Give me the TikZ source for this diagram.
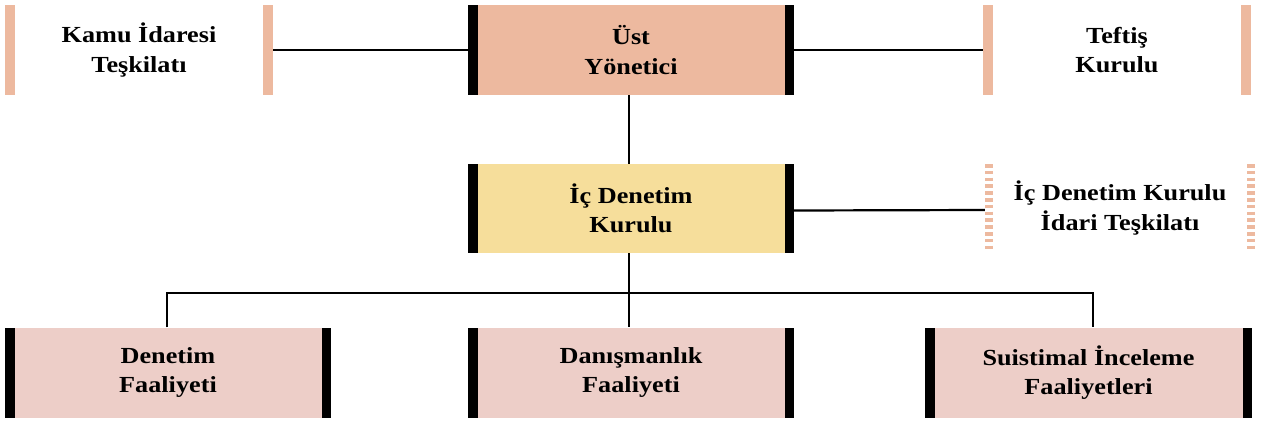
\documentclass[tikz,border=0pt]{standalone}
\usepackage{fontspec}
\setmainfont{Liberation Serif}[FakeStretch=1.14]
\definecolor{salmon}{HTML}{EDB99F}
\definecolor{sand}{HTML}{F6DE9B}
\definecolor{blush}{HTML}{EDCEC8}
\tikzset{
  unit/.style={inner sep=0pt, align=center,
    font=\fontsize{23pt}{29.5pt}\selectfont\bfseries},
  % filled box with heavy black bars on both sides
  mainbox/.style={unit, minimum width=326pt, minimum height=90pt, fill=#1,
    path picture={
      \fill[black] (path picture bounding box.north west) rectangle
        ([xshift=10pt]path picture bounding box.south west);
      \fill[black] (path picture bounding box.north east) rectangle
        ([xshift=-9.5pt]path picture bounding box.south east);}},
  % unfilled box marked only by two salmon side bars
  sidebox/.style={unit, minimum width=268pt, minimum height=90pt,
    path picture={
      \fill[salmon] (path picture bounding box.north west) rectangle
        ([xshift=10pt]path picture bounding box.south west);
      \fill[salmon] (path picture bounding box.north east) rectangle
        ([xshift=-10pt]path picture bounding box.south east);}},
  % unfilled box with dotted salmon side bars
  dashbox/.style={unit, minimum width=270pt, minimum height=88pt,
    path picture={
      \draw[salmon, line width=8pt, dash pattern=on 3.5pt off 3.3pt]
        ([xshift=4pt]path picture bounding box.north west) --
        ([xshift=4pt]path picture bounding box.south west)
        ([xshift=-4pt]path picture bounding box.north east) --
        ([xshift=-4pt]path picture bounding box.south east);}},
  link/.style={draw=black, line width=2.2pt}
}
\begin{document}
\begin{tikzpicture}[x=1pt, y=-1pt]
  \useasboundingbox (0,0) rectangle (1262,421);

  % top row
  \node[mainbox=salmon] (ust) at (631,50) {Üst\\Yönetici};
  \node[sidebox] (kamu) at (139,50) {Kamu İdaresi\\Teşkilatı};
  \node[sidebox] (teftis) at (1117,50) {Teftiş\\Kurulu};

  % middle row
  \node[mainbox=sand, minimum height=89pt] (icd) at (631,208.5) {İç Denetim\\Kurulu};
  \node[dashbox] (idari) at (1120,208) {İç Denetim Kurulu\\İdari Teşkilatı};

  % bottom row
  \node[mainbox=blush] (den) at (168,372.5) {Denetim\\Faaliyeti};
  \node[mainbox=blush] (dan) at (631,372.5) {Danışmanlık\\Faaliyeti};
  \node[mainbox=blush, minimum width=327pt] (sui) at (1088.5,372.5) {Suistimal İnceleme\\Faaliyetleri};

  % connectors
  \draw[link] (ust.west) -- (kamu.east);
  \draw[link] (ust.east) -- (teftis.west);
  \draw[link] ([xshift=-2pt]ust.south) -- ([xshift=-2pt]icd.north);
  \draw[link] ([yshift=-2pt]icd.east) -- ([yshift=-2pt]idari.west);
  \coordinate (split) at (629,293);
  \draw[link] ([xshift=-2pt]icd.south) -- (split);
  \draw[link] ([xshift=-1pt]den.north) |- (split) -| ([xshift=4.5pt]sui.north);
  \draw[link] (split) -- ([xshift=-2pt]dan.north);
\end{tikzpicture}
\end{document}
